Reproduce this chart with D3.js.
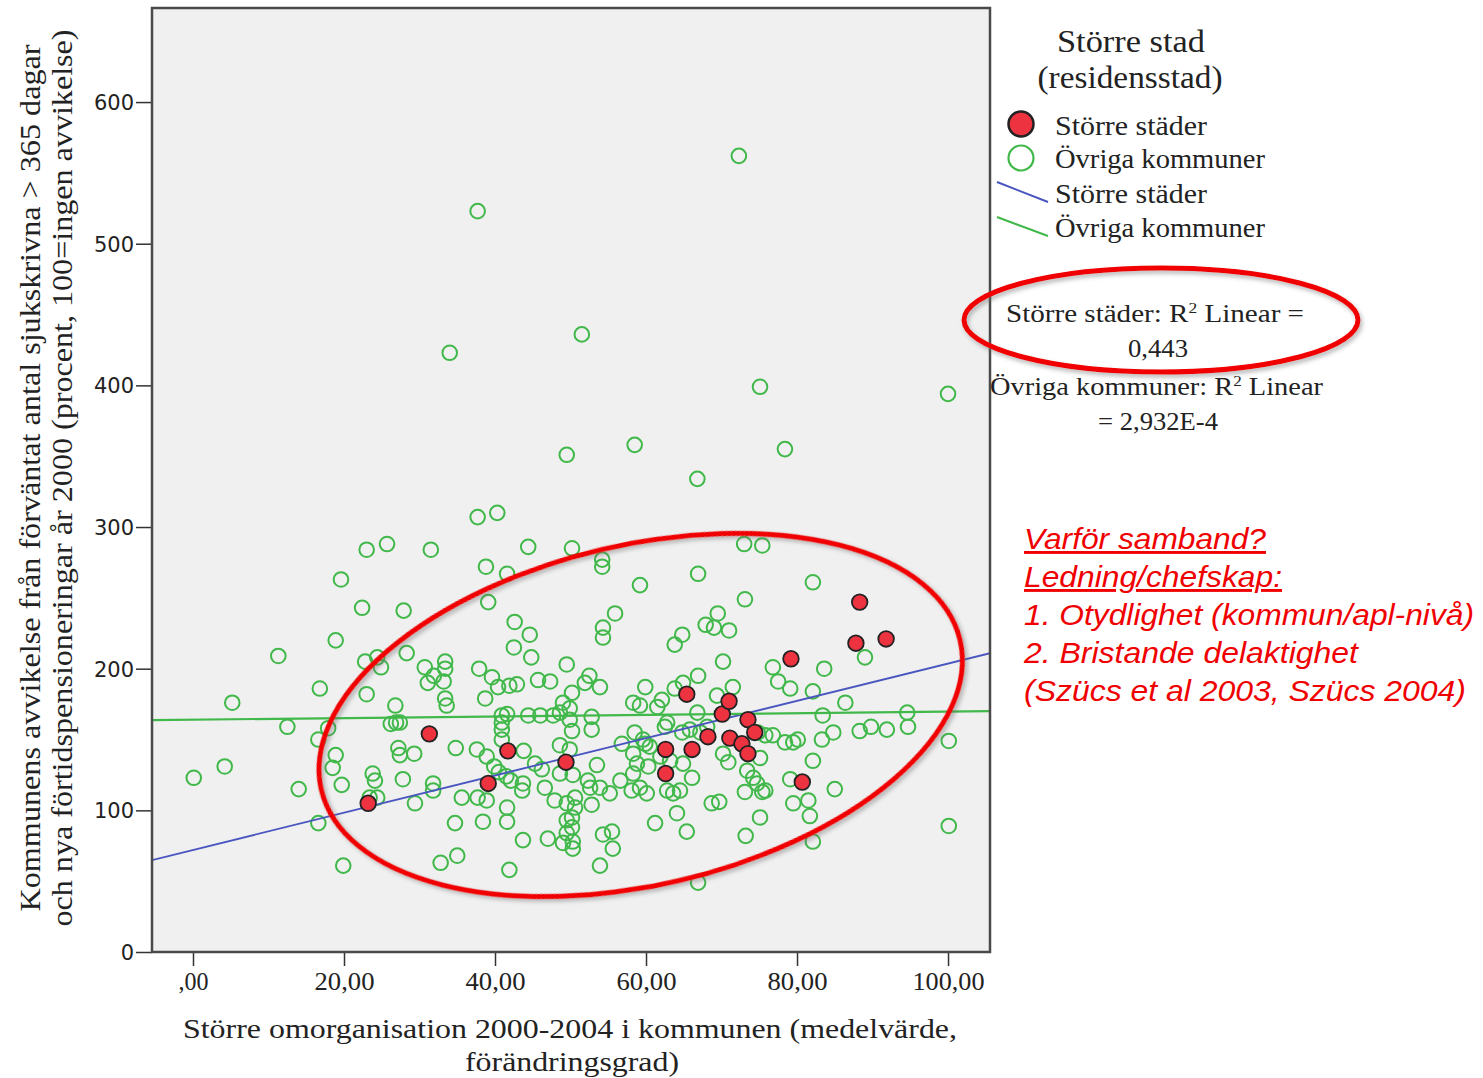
<!DOCTYPE html>
<html><head><meta charset="utf-8">
<script src="https://cdn.jsdelivr.net/npm/d3@7"></script>
<style>body{margin:0;background:#fff;} svg{display:block;}</style>
</head><body><svg id="c" width="1483" height="1078"></svg>
<script>
// ---------------- DATA ----------------
const xTickValues = [0, 20, 40, 60, 80, 100];
const yTickValues = [0, 100, 200, 300, 400, 500, 600];

// Övriga kommuner (open green circles)
const ovrigaX = [72.3,37.7,51.5,34.0,75.1,100.0,49.5,58.5,78.4,66.8,37.7,40.3,23.0,25.7,31.5,44.4,50.2,54.2,54.2,19.6,
38.8,41.6,22.4,27.9,39.1,59.2,66.9,73.0,75.4,82.1,73.1,55.9,69.5,54.3,54.3,42.6,44.6,18.9,11.3,24.4,
22.8,24.9,28.3,42.5,44.8,49.5,64.8,63.8,67.9,69.0,71.0,70.2,30.7,31.9,33.4,33.4,33.2,31.1,37.9,39.6,
40.4,41.9,42.9,45.7,47.3,38.7,16.8,23.0,26.8,33.4,33.6,5.2,52.5,51.9,53.9,50.2,59.9,63.8,64.9,66.9,
69.4,71.5,76.8,77.5,79.1,83.6,82.1,86.4,89.0,58.3,59.2,62.1,61.5,49.0,48.6,66.8,83.4,94.6,94.7,88.3,
89.8,91.9,100.1,46.0,47.7,49.9,49.9,52.8,52.8,50.2,40.9,41.6,44.4,40.9,40.9,26.9,26.2,27.4,12.5,17.9,
16.6,34.8,37.6,38.9,39.9,40.5,43.8,45.3,46.2,27.2,27.4,29.3,18.9,18.5,4.2,0.1,14.0,19.7,23.8,24.1,
24.4,23.4,27.8,31.8,31.8,35.6,37.7,38.9,29.4,41.6,41.6,43.7,41.5,42.1,43.6,34.7,38.4,16.6,43.7,47.0,
19.9,32.8,35.0,41.9,49.0,49.5,49.5,49.5,56.8,58.5,59.9,60.5,62.5,64.8,65.8,62.8,67.2,68.1,74.8,75.8,
76.8,78.4,79.5,80.1,83.3,84.8,53.5,50.3,48.6,58.3,58.8,58.3,60.3,61.9,63.2,64.9,66.1,70.2,70.9,73.4,
74.2,56.6,58.1,59.2,60.1,52.6,53.9,55.2,62.8,63.6,64.5,73.1,74.7,75.4,79.1,82.1,85.0,50.6,50.6,50.2,
50.2,50.3,50.3,52.8,68.7,69.7,79.5,81.5,64.1,61.2,65.4,75.1,81.7,54.3,55.5,55.6,73.2,82.1,53.9,66.9,
100.1,46.6,47.9,75.1,75.8,59.6,40.9,48.6,49.9,52.3];
const ovrigaY = [562,523,436,423,399,394,351,358,355,334,307,310,284,288,284,286,285,277,272,263,
272,267,243,241,247,259,267,288,287,261,249,239,239,229,222,233,224,220,209,208,
205,201,211,215,208,203,224,217,231,229,227,205,201,195,205,200,191,190,200,194,
187,188,189,192,191,179,186,182,174,179,174,176,195,190,187,183,187,186,190,195,
181,187,201,191,186,200,184,176,208,176,174,178,173,176,169,169,167,169,159,156,
159,157,149,167,167,172,164,166,157,156,167,168,167,157,150,162,161,162,159,158,
150,144,143,138,131,127,142,133,129,144,139,140,139,130,131,123,115,118,126,121,
109,109,122,119,114,109,109,107,105,102,92,119,124,121,114,91,92,91,79,80,
61,63,68,58,77,105,93,84,147,155,147,145,159,155,157,162,155,159,155,153,
153,148,148,150,150,155,132,125,126,140,133,126,131,138,135,133,123,140,134,128,
123,121,114,116,112,116,116,112,114,112,114,113,119,113,122,135,115,109,102,95,
88,78,73,104,105,106,105,107,98,91,85,95,96,83,85,73,82,78,61,49,
89,116,107,137,114,150,162,146,143,121];

// Större städer (filled red circles)
const storreX = [31.3,23.2,39.1,41.7,49.4,62.6,62.6,65.4,66.1,68.2,70.1,71.0,71.1,72.7,73.5,73.5,74.4,79.2,80.7,88.3,87.8,91.8];
const storreY = [154,105,119,142,134,143,126,182,143,152,168,177,151,147,164,140,155,207,120,247,218,221];

// Linear fit lines
const fitSeries = ["Större städer", "Övriga kommuner"];
const fitIntercept = [72.0, 164.0];
const fitSlope = [1.316, 0.057];
const fitR2 = ["0,443", "2,932E-4"];

// Texts
const legendTitle = ["Större stad", "(residensstad)"];
const xTitle = ["Större omorganisation 2000-2004 i kommunen (medelvärde,", "förändringsgrad)"];
const yTitle = ["Kommunens avvikelse från förväntat antal sjukskrivna > 365 dagar",
                "och nya förtidspensioneringar år 2000 (procent, 100=ingen avvikelse)"];
const noteLines = ["Varför samband?", "Ledning/chefskap:", "1. Otydlighet (kommun/apl-nivå)",
                   "2. Bristande delaktighet", "(Szücs et al 2003, Szücs 2004)"];
// annotation ellipse centre (data units)
const ellipseCenter = [59.3, 167.3];

// ---------------- DRAWING ----------------
const svg = d3.select("#c");
const SERIF = "'Liberation Serif','Times New Roman',serif";
const SANS = "'DejaVu Sans',Verdana,sans-serif";
const TXT = "#222";
const GREEN = "#41b84a", RED = "#ee3340", BLUE = "#4a56c0";

const L = 152, R = 990, T = 8, B = 952;
const x = d3.scaleLinear().domain([-5.43, 105.56]).range([L, R]);
const y = d3.scaleLinear().domain([0, 666.4]).range([B, T]);

const defs = svg.append("defs");
defs.append("clipPath").attr("id", "clip").append("rect")
  .attr("x", L).attr("y", T).attr("width", R - L).attr("height", B - T);
const f = defs.append("filter").attr("id", "shadow").attr("x", "-10%").attr("y", "-10%").attr("width", "120%").attr("height", "130%");
f.append("feDropShadow").attr("dx", 2).attr("dy", 3).attr("stdDeviation", 2)
  .attr("flood-color", "#666").attr("flood-opacity", 0.45);

// plot background
svg.append("rect").attr("x", L).attr("y", T).attr("width", R - L).attr("height", B - T)
  .attr("fill", "#f0f0f0");

// axes
const yAxis = d3.axisLeft(y).tickValues(yTickValues).tickSize(16).tickPadding(2).tickFormat(d3.format("d"));
const gy = svg.append("g").attr("transform", `translate(${L},0)`).call(yAxis);
gy.select(".domain").remove();
gy.selectAll(".tick line").attr("stroke", "#333").attr("stroke-width", 1.5);
gy.selectAll("text").attr("font-family", SANS).attr("font-size", 21).attr("fill", TXT).attr("dy", "0.36em");

const xFmt = d => { const s = d3.format(".2f")(d).replace(".", ","); return d === 0 ? s.slice(1) : s; };
const xAxis = d3.axisBottom(x).tickValues(xTickValues).tickSize(14).tickFormat(xFmt);
const gx = svg.append("g").attr("transform", `translate(0,${B})`).call(xAxis);
gx.select(".domain").remove();
gx.selectAll(".tick line").attr("stroke", "#333").attr("stroke-width", 1.5);
gx.selectAll("text").attr("font-family", SERIF).attr("font-size", 26).attr("fill", TXT)
  .attr("y", 38).attr("dy", 0)
  .attr("textLength", d => d === 0 ? 30 : (d === 100 ? 72 : 60)).attr("lengthAdjust", "spacingAndGlyphs");

// points
const plot = svg.append("g").attr("clip-path", "url(#clip)");
const ovriga = ovrigaX.map((v, i) => ({x: v, y: ovrigaY[i]}));
const storre = storreX.map((v, i) => ({x: v, y: storreY[i]}));

plot.append("g").selectAll("circle").data(ovriga).join("circle")
  .attr("cx", d => x(d.x)).attr("cy", d => y(d.y)).attr("r", 7.3)
  .attr("fill", "none").attr("stroke", GREEN).attr("stroke-width", 2);

// fit lines
const fitColors = [BLUE, GREEN];
const dom = x.domain();
fitSeries.forEach((s, i) => {
  plot.append("line")
    .attr("x1", x(dom[0])).attr("y1", y(fitIntercept[i] + fitSlope[i] * dom[0]))
    .attr("x2", x(dom[1])).attr("y2", y(fitIntercept[i] + fitSlope[i] * dom[1]))
    .attr("stroke", fitColors[i]).attr("stroke-width", i === 0 ? 1.8 : 2.2);
});

plot.append("g").selectAll("circle").data(storre).join("circle")
  .attr("cx", d => x(d.x)).attr("cy", d => y(d.y)).attr("r", 7.8)
  .attr("fill", RED).attr("stroke", "#222").attr("stroke-width", 1.8);

// frame
svg.append("rect").attr("x", L).attr("y", T).attr("width", R - L).attr("height", B - T)
  .attr("fill", "none").attr("stroke", "#4a4a4a").attr("stroke-width", 2.5);

// text helper
function txt(px, py, str, size, len, opts = {}) {
  const t = svg.append("text").attr("x", px).attr("y", py)
    .attr("font-family", opts.family || SERIF).attr("font-size", size)
    .attr("fill", opts.fill || TXT).attr("text-anchor", opts.anchor || "middle")
    .text(str);
  if (len) t.attr("textLength", len).attr("lengthAdjust", "spacingAndGlyphs");
  if (opts.italic) t.attr("font-style", "italic");
  if (opts.underline) t.attr("text-decoration", "underline");
  if (opts.transform) t.attr("transform", opts.transform);
  return t;
}

// axis titles
txt(570, 1038, xTitle[0], 28, 774);
txt(572, 1071, xTitle[1], 28, 214);
txt(0, 0, yTitle[0], 30, 867, {transform: "translate(40,478) rotate(-90)"});
txt(0, 0, yTitle[1], 30, 897, {transform: "translate(72,478) rotate(-90)"});

// legend
txt(1131, 52, legendTitle[0], 31, 148);
txt(1130, 88, legendTitle[1], 31, 185);
svg.append("circle").attr("cx", 1021).attr("cy", 124).attr("r", 12.5)
  .attr("fill", RED).attr("stroke", "#222").attr("stroke-width", 2.5);
svg.append("circle").attr("cx", 1021).attr("cy", 158).attr("r", 12.5)
  .attr("fill", "none").attr("stroke", GREEN).attr("stroke-width", 2.2);
svg.append("line").attr("x1", 997).attr("y1", 182).attr("x2", 1048).attr("y2", 202)
  .attr("stroke", BLUE).attr("stroke-width", 2);
svg.append("line").attr("x1", 997).attr("y1", 217).attr("x2", 1048).attr("y2", 236)
  .attr("stroke", GREEN).attr("stroke-width", 2);
txt(1055, 135, fitSeries[0], 28, 152, {anchor: "start"});
txt(1055, 168, fitSeries[1], 28, 210, {anchor: "start"});
txt(1055, 203, fitSeries[0], 28, 152, {anchor: "start"});
txt(1055, 237, fitSeries[1], 28, 210, {anchor: "start"});

// R² labels
function r2(px, py, pre, post, len) {
  const t = svg.append("text").attr("x", px).attr("y", py)
    .attr("font-family", SERIF).attr("font-size", 25).attr("fill", TXT)
    .attr("textLength", len).attr("lengthAdjust", "spacingAndGlyphs");
  t.append("tspan").text(pre);
  t.append("tspan").attr("dy", -9).attr("font-size", 15).text("2");
  t.append("tspan").attr("dy", 9).text(post);
}
r2(1006, 322, fitSeries[0] + ": R", " Linear =", 298);
txt(1158, 357, fitR2[0], 25, 60);
r2(990, 395, fitSeries[1] + ": R", " Linear", 333);
txt(1158, 430, "= " + fitR2[1], 25, 120);

// annotation ellipses
svg.append("ellipse")
  .attr("transform", `translate(${x(ellipseCenter[0])},${y(ellipseCenter[1])}) rotate(-13.2)`)
  .attr("rx", 328).attr("ry", 170)
  .attr("fill", "none").attr("stroke", "#f00000").attr("stroke-width", 5)
  .attr("filter", "url(#shadow)");
svg.append("ellipse")
  .attr("transform", "translate(1161,320)")
  .attr("rx", 197).attr("ry", 52)
  .attr("fill", "none").attr("stroke", "#f00000").attr("stroke-width", 5)
  .attr("filter", "url(#shadow)");

// red note text
const noteLens = [242, 258, 450, 334, 442];
noteLines.forEach((s, i) => {
  txt(1024, 549 + i * 38, s, 29, noteLens[i],
      {anchor: "start", family: "'Liberation Sans',Arial,sans-serif", fill: "#f00000", italic: true, underline: i < 2});
});
</script></body></html>
